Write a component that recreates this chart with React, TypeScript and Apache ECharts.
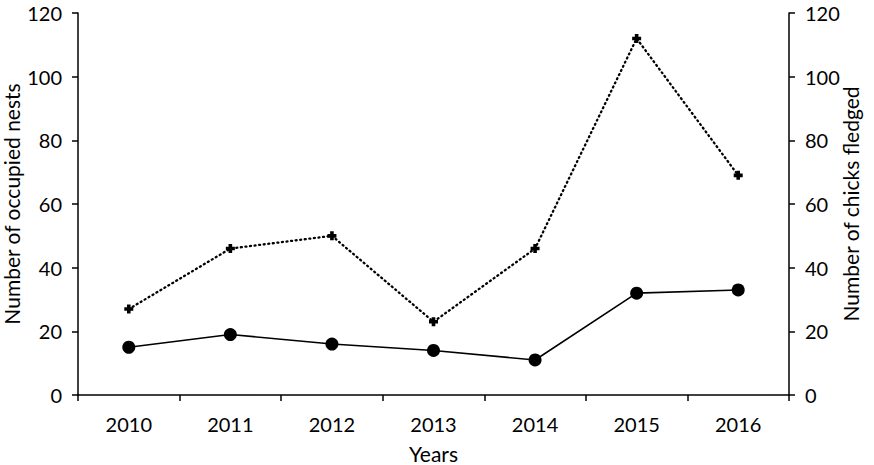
import React, { useEffect, useRef } from "react";
import * as echarts from "echarts";

const years = ["2010", "2011", "2012", "2013", "2014", "2015", "2016"];
const occupiedNests = [15, 19, 16, 14, 11, 32, 33];
const chicksFledged = [27, 46, 50, 23, 46, 112, 69];

const FONT = "Lato, 'Open Sans', sans-serif";

export default function App() {
  const ref = useRef<HTMLDivElement>(null);
  useEffect(() => {
    if (!ref.current) return;
    const chart = echarts.init(ref.current, undefined, { renderer: "svg" });
    const axisCommon = {
      type: "value" as const,
      min: 0,
      max: 120,
      interval: 20,
      nameLocation: "middle" as const,
      nameMoveOverlap: false,
      nameTextStyle: { color: "#000", fontSize: 21, fontFamily: FONT },
      axisLine: { show: true, lineStyle: { color: "#000", width: 1.5 } },
      axisTick: { show: true, length: 6, lineStyle: { color: "#000", width: 1.5 } },
      axisLabel: { color: "#000", fontSize: 20, fontFamily: FONT, margin: 16 },
      splitLine: { show: false },
    };
    chart.setOption({
      animation: false,
      backgroundColor: "#fff",
      grid: { left: 78, right: 85, top: 13, bottom: 70, outerBoundsMode: "none", containLabel: false },
      xAxis: {
        type: "category",
        data: years,
        name: "Years",
        nameLocation: "middle",
        nameMoveOverlap: false,
        nameGap: 48,
        nameTextStyle: { color: "#000", fontSize: 21, fontFamily: FONT },
        boundaryGap: true,
        axisLine: { lineStyle: { color: "#000", width: 1.5 } },
        axisTick: { show: true, length: 6, inside: false, lineStyle: { color: "#000", width: 1.5 } },
        axisLabel: { color: "#000", fontSize: 20, fontFamily: FONT, margin: 19 },
      },
      yAxis: [
        { ...axisCommon, name: "Number of occupied nests", nameGap: 56, position: "left" },
        { ...axisCommon, name: "Number of chicks fledged", nameGap: 51, position: "right" },
      ],
      series: [
        {
          name: "Number of occupied nests",
          type: "line",
          yAxisIndex: 0,
          data: occupiedNests,
          symbol: "circle",
          symbolSize: 13,
          itemStyle: { color: "#000" },
          lineStyle: { color: "#000", width: 1.6 },
        },
        {
          name: "Number of chicks fledged",
          type: "line",
          yAxisIndex: 1,
          data: chicksFledged,
          symbol: "path://M3,0 L7,0 L7,3 L10,3 L10,7 L7,7 L7,10 L3,10 L3,7 L0,7 L0,3 L3,3 Z",
          symbolSize: 9,
          itemStyle: { color: "#000" },
          lineStyle: { color: "#000", width: 2.3, type: [1, 3.6], cap: "round" },
        },
      ],
    });
    return () => chart.dispose();
  }, []);
  return (
    <div
      ref={ref}
      style={{ position: "fixed", left: 0, top: 0, width: 874, height: 465 }}
    />
  );
}
